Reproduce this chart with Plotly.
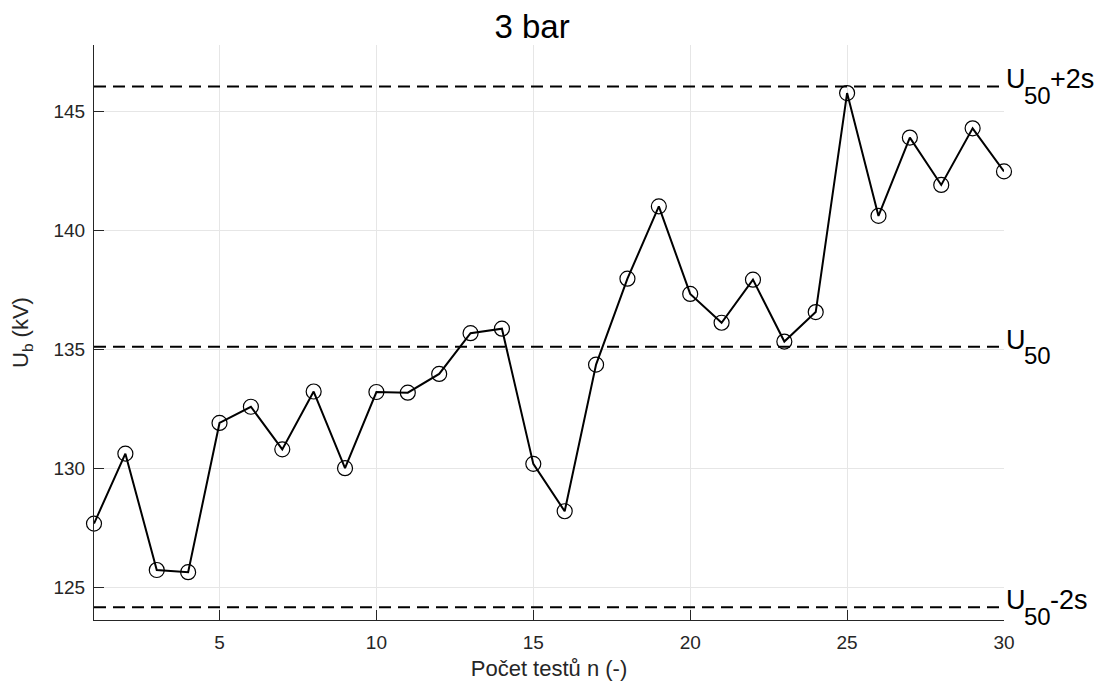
import plotly.graph_objects as go

# ---- data ----
n_tests = list(range(1, 31))
ub_kv = [127.67, 130.61, 125.72, 125.63, 131.90, 132.58, 130.79, 133.22, 130.00, 133.20,
         133.17, 133.96, 135.67, 135.86, 130.18, 128.19, 134.35, 137.96, 141.00, 137.32,
         136.11, 137.92, 135.32, 136.56, 145.76, 140.60, 143.89, 141.90, 144.28, 142.47]
u50 = 135.10
s = 5.47
x_ticks = [5, 10, 15, 20, 25, 30]
y_ticks = [125, 130, 135, 140, 145]
x_range = [1, 30]
y_range = [123.62, 147.78]
ref_levels = [u50 + 2 * s, u50, u50 - 2 * s]
ref_suffix = ["+2s", "", "-2s"]

FONT = "Liberation Sans, Arial, Helvetica, sans-serif"
AX = "#262626"
LBL = 27      # main label font size
SUB = 24      # subscript font size

fig = go.Figure()

for lvl in ref_levels:
    fig.add_trace(go.Scatter(
        x=x_range, y=[lvl, lvl], mode="lines",
        line=dict(color="black", width=2, dash="12px,7px"),
        hoverinfo="skip", showlegend=False))

fig.add_trace(go.Scatter(
    x=n_tests, y=ub_kv, mode="lines+markers",
    line=dict(color="black", width=2),
    marker=dict(symbol="circle-open", size=15, color="black", line=dict(width=1.2, color="black")),
    showlegend=False, cliponaxis=False))

# right-hand labels: "U" + large lowered subscript "50" + suffix
u_adv = 0.722 * LBL
sub_adv = 2 * 0.556 * SUB
for lvl, suf in zip(ref_levels, ref_suffix):
    common = dict(x=x_range[1], y=lvl, xref="x", yref="y", showarrow=False,
                  xanchor="left", yanchor="middle")
    fig.add_annotation(text="U", xshift=0, yshift=7,
                       font=dict(family=FONT, size=LBL, color="black"), **common)
    fig.add_annotation(text="50", xshift=u_adv - 1, yshift=-9,
                       font=dict(family=FONT, size=SUB, color="black"), **common)
    if suf:
        fig.add_annotation(text=suf, xshift=u_adv + sub_adv - 2, yshift=7,
                           font=dict(family=FONT, size=LBL, color="black"), **common)

# page body has an 8px margin, so the figure is 8px smaller than the window
fig.update_layout(
    width=1094, height=680,
    margin=dict(l=84, r=98, t=37, b=65),
    paper_bgcolor="white", plot_bgcolor="white",
    font=dict(family=FONT, color=AX),
    title=dict(text="3 bar", x=0.479, xanchor="center", y=0.973, yanchor="middle",
               font=dict(family=FONT, size=33, color="black")),
)
fig.update_xaxes(
    range=x_range, tickvals=x_ticks, ticks="inside", ticklen=10, tickcolor=AX,
    showline=True, linecolor=AX, linewidth=1, mirror=False,
    showgrid=True, gridcolor="#e6e6e6", gridwidth=1, zeroline=False,
    tickfont=dict(family=FONT, size=19, color=AX), ticklabelstandoff=5,
    title=dict(text="Počet testů n (-)", font=dict(family=FONT, size=22, color=AX), standoff=8),
)
fig.update_yaxes(
    range=y_range, tickvals=y_ticks, ticks="inside", ticklen=10, tickcolor=AX,
    showline=True, linecolor=AX, linewidth=1, mirror=False,
    showgrid=True, gridcolor="#e6e6e6", gridwidth=1, zeroline=False,
    tickfont=dict(family=FONT, size=19, color=AX), ticklabelstandoff=4,
    title=dict(text="U<sub>b</sub> (kV)", font=dict(family=FONT, size=22, color=AX), standoff=18),
)

fig.write_html("out.html")
